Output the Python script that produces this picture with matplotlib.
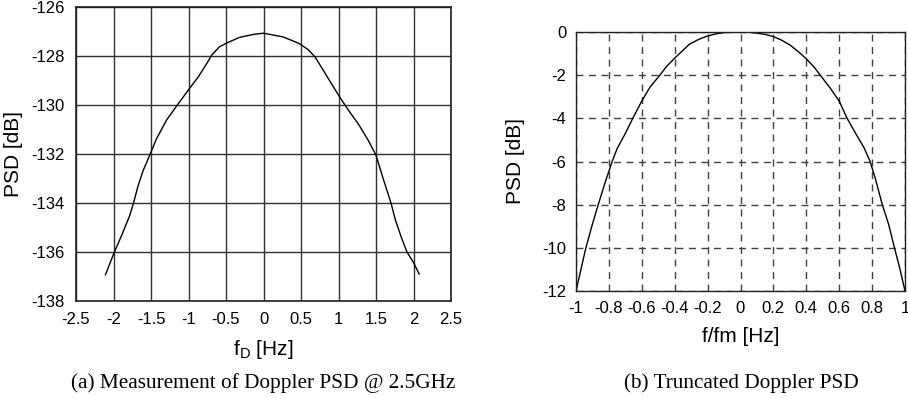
import matplotlib
matplotlib.use("Agg")
import matplotlib.pyplot as plt

plt.rcParams["axes.unicode_minus"] = False

# Left panel: measured Doppler PSD @ 2.5 GHz
fd_hz = [-2.107, -2.0, -1.897, -1.787, -1.733, -1.675, -1.608, -1.52, -1.43, -1.29,
         -1.13, -1.0, -0.867, -0.755, -0.69, -0.585, -0.497, -0.32, -0.12, 0.0,
         0.26, 0.47, 0.6, 0.69, 0.82, 1.0, 1.13, 1.27, 1.40, 1.5, 1.60, 1.70,
         1.757, 1.847, 1.913, 2.0, 2.076]
psd_meas_db = [-136.93, -136.09, -135.36, -134.54, -134.0, -133.33, -132.7, -132.07,
               -131.4, -130.6, -129.92, -129.38, -128.84, -128.3, -127.96, -127.62,
               -127.48, -127.24, -127.11, -127.07, -127.22, -127.48, -127.75, -128.05,
               -128.7, -129.6, -130.2, -130.8, -131.46, -132.05, -133.05, -134.0,
               -134.68, -135.48, -136.0, -136.43, -136.9]
left_xticks = [-2.5, -2, -1.5, -1, -0.5, 0, 0.5, 1, 1.5, 2, 2.5]
left_xticklabels = ["-2.5", "-2", "-1.5", "-1", "-0.5", "0", "0.5", "1", "1.5", "2", "2.5"]
left_yticks = [-138, -136, -134, -132, -130, -128, -126]

# Right panel: truncated Doppler PSD
f_norm = [-1.0, -0.97, -0.94, -0.9, -0.865, -0.82, -0.78, -0.75, -0.7, -0.655, -0.6,
          -0.55, -0.49, -0.45, -0.4, -0.35, -0.31, -0.25, -0.2, -0.15, -0.105,
          -0.05, 0.0, 0.05, 0.097, 0.15, 0.2, 0.25, 0.3, 0.35, 0.4, 0.45, 0.485,
          0.55, 0.6, 0.648, 0.7, 0.75, 0.788, 0.82, 0.862, 0.9, 0.936, 0.97, 1.0]
psd_trunc_db = [-12.0, -11.0, -10.0, -8.9, -8.0, -6.9, -6.0, -5.4, -4.7, -4.0, -3.2,
                -2.55, -2.0, -1.6, -1.21, -0.85, -0.56, -0.33, -0.18, -0.09, -0.03,
                -0.005, 0.0, -0.01, -0.05, -0.11, -0.21, -0.38, -0.6, -0.9, -1.24, -1.65,
                -2.0, -2.65, -3.2, -4.0, -4.7, -5.35, -6.0, -6.8, -8.0, -8.9, -10.0,
                -11.0, -12.0]
right_xticks = [-1, -0.8, -0.6, -0.4, -0.2, 0, 0.2, 0.4, 0.6, 0.8, 1]
right_xticklabels = ["-1", "-0.8", "-0.6", "-0.4", "-0.2", "0", "0.2", "0.4", "0.6", "0.8", "1"]
right_yticks = [-12, -10, -8, -6, -4, -2, 0]

sans = ["Liberation Sans", "DejaVu Sans"]
serif = ["Liberation Serif", "DejaVu Serif"]

W, H = 908, 398
fig = plt.figure(figsize=(W / 100, H / 100), dpi=100)

def ax_rect(l, t, r, b):
    return [l / W, 1 - b / H, (r - l) / W, (b - t) / H]

# ---- left
ax1 = fig.add_axes(ax_rect(76, 7, 451, 301))
ax1.plot(fd_hz, psd_meas_db, color="black", lw=1.0)
ax1.set_xlim(-2.5, 2.5)
ax1.set_ylim(-138, -126)
ax1.set_xticks(left_xticks)
ax1.set_xticklabels(left_xticklabels)
ax1.set_yticks(left_yticks)
ax1.grid(True, color="#303030", lw=1.0, ls="-")
ax1.set_axisbelow(True)
ax1.tick_params(length=0, pad=8, labelsize=12)
for lab in ax1.get_xticklabels() + ax1.get_yticklabels():
    lab.set_fontfamily(sans)
for s in ax1.spines.values():
    s.set_linewidth(1.2)
    s.set_color("#202020")
ax1.set_ylabel("PSD [dB]", fontsize=15, family=sans, labelpad=6)
ax1.set_xlabel(r"f$_\mathregular{D}$ [Hz]", fontsize=15, family=sans, labelpad=8)

# ---- right
ax2 = fig.add_axes(ax_rect(576, 32, 905, 291))
ax2.plot(f_norm, psd_trunc_db, color="black", lw=1.0)
ax2.set_xlim(-1, 1)
ax2.set_ylim(-12, 0)
ax2.set_xticks(right_xticks)
ax2.set_xticklabels(right_xticklabels)
ax2.set_yticks(right_yticks)
ax2.grid(True, color="#404040", lw=1.0, ls=(0, (5, 4)))
ax2.set_axisbelow(True)
ax2.tick_params(length=0, pad=7, labelsize=12)
for lab in ax2.get_xticklabels() + ax2.get_yticklabels():
    lab.set_fontfamily(sans)
for s in ax2.spines.values():
    s.set_linewidth(1.0)
    s.set_color("#202020")
ax2.set_ylabel("PSD [dB]", fontsize=15, family=sans, labelpad=12)
ax2.set_xlabel("f/fm [Hz]", fontsize=15, family=sans, labelpad=8)

# captions
fig.text(263 / W, 1 - 383 / H, "(a) Measurement of Doppler PSD @ 2.5GHz",
         ha="center", va="center", fontsize=15.3, family=serif)
fig.text(741 / W, 1 - 383 / H, "(b) Truncated Doppler PSD",
         ha="center", va="center", fontsize=15.3, family=serif)

fig.savefig("out.png", dpi=100)
